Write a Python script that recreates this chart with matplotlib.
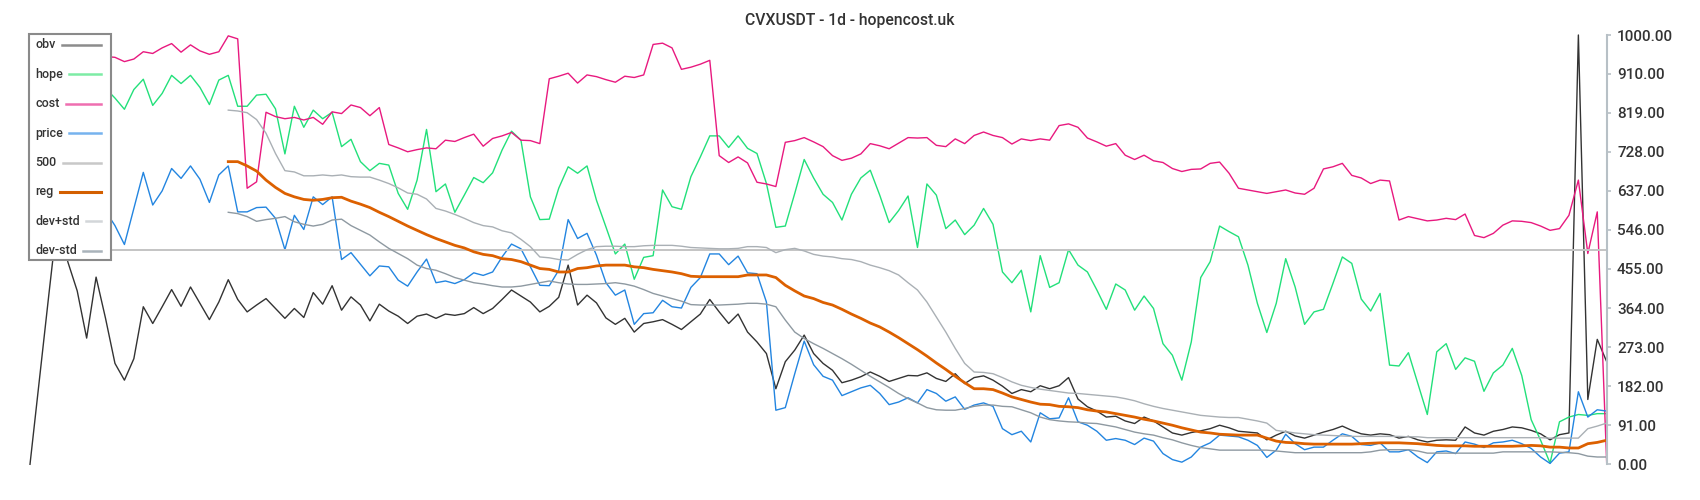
import matplotlib
matplotlib.use("Agg")
import matplotlib.pyplot as plt
from matplotlib.patches import Rectangle
from matplotlib.lines import Line2D

plt.rcParams['font.family'] = ['Roboto', 'DejaVu Sans']

title = "CVXUSDT - 1d - hopencost.uk"

# normalised series, one value per day (168 days)
obv = [0, 198, 396, 590, 472, 404, 294, 436, 340, 235,
       196, 246, 367, 328, 367, 407, 368, 413, 375, 337,
       378, 430, 384, 355, 371, 386, 363, 340, 363, 342,
       400, 373, 416, 359, 390, 371, 334, 373, 357, 345,
       328, 345, 350, 340, 350, 347, 351, 365, 351, 363,
       384, 406, 392, 378, 355, 368, 389, 464, 371, 394,
       376, 341, 326, 340, 308, 328, 332, 337, 326, 314,
       332, 350, 384, 355, 328, 350, 308, 285, 258, 176,
       239, 266, 301, 258, 235, 219, 190, 196, 204, 215,
       205, 193, 200, 207, 206, 213, 200, 193, 211, 188,
       202, 206, 196, 182, 165, 174, 169, 183, 176, 183,
       202, 152, 134, 124, 110, 112, 101, 95, 110, 101,
       87, 73, 68, 74, 78, 83, 91, 85, 77, 75,
       73, 57, 68, 77, 66, 61, 68, 75, 81, 89,
       79, 71, 68, 71, 69, 61, 65, 57, 52, 56,
       57, 56, 87, 73, 68, 77, 81, 87, 85, 79,
       71, 57, 69, 73, 1000, 151, 291, 239]

hope = [880, 850, 870, 895, 860, 845, 875, 890, 876, 853,
        827, 873, 897, 836, 864, 906, 887, 906, 878, 838,
        895, 906, 834, 834, 860, 862, 828, 723, 834, 785,
        825, 805, 820, 740, 757, 705, 684, 701, 697, 631,
        594, 662, 780, 635, 653, 587, 627, 668, 656, 679,
        732, 776, 755, 623, 570, 571, 643, 693, 678, 695,
        615, 553, 490, 513, 431, 482, 486, 639, 600, 594,
        670, 716, 765, 765, 738, 765, 736, 724, 654, 552,
        555, 631, 710, 667, 629, 610, 569, 629, 667, 685,
        627, 563, 591, 625, 505, 653, 627, 549, 569, 535,
        557, 596, 559, 448, 423, 452, 355, 486, 412, 423,
        500, 464, 448, 406, 361, 420, 406, 359, 392, 363,
        281, 254, 196, 285, 435, 472, 555, 542, 530, 464,
        375, 307, 375, 479, 413, 326, 355, 361, 421, 483,
        468, 385, 357, 398, 231, 229, 260, 188, 116, 262,
        281, 221, 248, 240, 170, 213, 231, 270, 207, 104,
        56, 3, 99, 110, 116, 114, 118, 118]

cost = [960, 975, 990, 970, 955, 965, 980, 960, 950, 948,
        938, 944, 961, 957, 970, 980, 960, 977, 963, 955,
        961, 998, 991, 643, 658, 820, 810, 805, 808, 802,
        808, 792, 821, 817, 837, 831, 812, 831, 745, 737,
        728, 733, 737, 735, 755, 752, 761, 769, 741, 759,
        765, 773, 755, 754, 747, 898, 904, 911, 888, 907,
        903, 896, 890, 904, 901, 907, 978, 981, 970, 920,
        925, 932, 941, 719, 703, 716, 702, 657, 653, 647,
        750, 754, 761, 751, 740, 719, 708, 713, 723, 747,
        742, 735, 748, 761, 760, 761, 743, 740, 758, 747,
        766, 774, 766, 761, 746, 758, 754, 758, 755, 789,
        793, 785, 760, 751, 741, 747, 720, 710, 720, 707,
        703, 689, 682, 687, 688, 701, 704, 678, 643, 639,
        635, 631, 635, 639, 632, 629, 643, 688, 693, 701,
        673, 667, 654, 662, 660, 569, 577, 572, 567, 569,
        573, 570, 583, 533, 528, 538, 557, 567, 566, 563,
        555, 545, 549, 580, 662, 491, 588, 2]

price = [610, 640, 600, 575, 620, 650, 630, 600, 590, 556,
         512, 596, 680, 604, 637, 689, 666, 695, 664, 610,
         674, 695, 588, 588, 598, 599, 573, 500, 580, 547,
         623, 605, 623, 477, 493, 466, 439, 462, 460, 429,
         415, 448, 478, 423, 427, 421, 430, 446, 440, 448,
         483, 513, 502, 460, 417, 416, 452, 570, 526, 538,
         487, 423, 394, 406, 326, 351, 353, 382, 367, 364,
         412, 435, 490, 490, 465, 485, 446, 444, 378, 126,
         132, 211, 287, 232, 205, 196, 160, 169, 178, 184,
         165, 139, 145, 155, 143, 174, 165, 147, 157, 128,
         138, 143, 135, 83, 69, 77, 52, 120, 106, 108,
         155, 99, 91, 77, 56, 60, 56, 46, 61, 54,
         25, 11, 5, 17, 40, 50, 68, 66, 64, 56,
         44, 16, 33, 70, 48, 34, 40, 40, 56, 71,
         65, 46, 44, 50, 29, 29, 34, 17, 4, 29,
         31, 25, 52, 47, 39, 50, 52, 56, 48, 37,
         17, 2, 26, 29, 169, 110, 127, 124]

level = 500

# regression and bands start on day 21
reg_start = 21
reg = [705, 705, 695, 683, 662, 645, 631, 623, 617,
       615, 617, 621, 622, 613, 606, 598, 587, 577, 566,
       555, 545, 535, 526, 518, 510, 504, 495, 489, 486,
       479, 477, 472, 464, 456, 454, 448, 448, 456, 458,
       462, 464, 464, 464, 460, 458, 454, 451, 448, 444,
       438, 437, 437, 437, 437, 437, 441, 441, 441, 435,
       417, 404, 392, 386, 377, 371, 361, 350, 340, 329,
       320, 308, 295, 281, 267, 252, 236, 221, 205, 190,
       176, 176, 174, 166, 157, 151, 145, 140, 139, 135,
       134, 132, 127, 124, 122, 118, 114, 110, 105, 101,
       96, 91, 85, 80, 75, 73, 70, 69, 68, 68,
       68, 61, 54, 51, 50, 48, 47, 47, 47, 47,
       47, 48, 49, 50, 50, 50, 49, 48, 46, 44,
       43, 43, 43, 42, 42, 42, 42, 42, 43, 44,
       43, 40, 40, 38, 38, 48, 51, 56]

dev_plus = [825, 823, 819, 803, 771, 724, 684, 681, 672,
            672, 674, 672, 674, 670, 669, 669, 662, 654, 644,
            632, 629, 618, 596, 590, 582, 573, 563, 556, 553,
            544, 539, 524, 507, 483, 481, 477, 476, 489, 500,
            507, 508, 508, 507, 507, 509, 510, 510, 510, 508,
            505, 504, 503, 502, 502, 503, 507, 507, 505, 493,
            500, 503, 497, 489, 485, 483, 479, 477, 472, 464,
            458, 451, 441, 423, 406, 378, 343, 308, 270, 235,
            215, 214, 211, 202, 192, 184, 179, 175, 172, 169,
            166, 165, 163, 161, 159, 157, 153, 148, 141, 135,
            130, 126, 122, 118, 114, 112, 110, 109, 109, 105,
            101, 96, 79, 76, 73, 71, 69, 68, 67, 66,
            65, 65, 65, 65, 65, 65, 64, 64, 62, 62,
            62, 62, 62, 62, 62, 62, 62, 62, 62, 62,
            62, 61, 61, 61, 61, 83, 89, 96]

dev_minus = [587, 584, 577, 566, 570, 573, 577, 565, 559,
             555, 559, 569, 571, 556, 545, 534, 518, 503, 491,
             479, 464, 456, 452, 444, 435, 429, 423, 420, 416,
             413, 413, 415, 419, 423, 427, 423, 420, 419, 419,
             420, 421, 423, 420, 415, 407, 398, 392, 386, 380,
             372, 371, 371, 371, 372, 373, 375, 375, 373, 367,
             336, 308, 293, 281, 270, 258, 246, 233, 219, 205,
             192, 179, 165, 153, 143, 132, 127, 126, 126, 130,
             135, 138, 138, 135, 134, 127, 120, 110, 104, 101,
             99, 98, 96, 95, 91, 87, 81, 75, 71, 68,
             62, 57, 50, 44, 39, 36, 33, 33, 33, 33,
             33, 33, 31, 29, 27, 27, 27, 27, 27, 27,
             27, 27, 29, 33, 34, 34, 34, 31, 26, 26,
             26, 26, 26, 26, 26, 26, 29, 29, 29, 29,
             29, 29, 28, 27, 25, 19, 17, 17]

y_ticks = [0, 91, 182, 273, 364, 455, 546, 637, 728, 819, 910, 1000]

W, H = 1700, 500


def fx(px):
    return px / W


def fy(py):
    return 1 - py / H


fig = plt.figure(figsize=(17, 5), dpi=100)
ax = fig.add_axes([fx(30), fy(464.3), fx(1606.7) - fx(30), fy(35) - fy(464.3)])

days = list(range(len(obv)))
reg_days = list(range(reg_start, reg_start + len(reg)))

ax.plot(days, obv, color='#333333', lw=1.0, clip_on=False)
ax.plot(days, hope, color='#22e07a', lw=1.0, clip_on=False)
ax.plot(days, cost, color='#e8197f', lw=1.0, clip_on=False)
ax.plot(days, price, color='#2385e0', lw=1.0, clip_on=False)
ax.plot(days, [level] * len(days), color='#c4c4c4', lw=1.4)
ax.plot(reg_days, reg, color='#dc6000', lw=2.0)
ax.plot(reg_days, dev_plus, color='#aab0b5', lw=1.0)
ax.plot(reg_days, dev_minus, color='#8e99a1', lw=1.0)

ax.set_xlim(0, len(days) - 1)
ax.set_ylim(0, 1000)

for s in ['left', 'top', 'bottom']:
    ax.spines[s].set_visible(False)
ax.spines['right'].set_color('#b7c0c6')
ax.spines['right'].set_linewidth(1.5)
ax.set_xticks([])
ax.yaxis.tick_right()
ax.set_yticks(y_ticks)
ax.set_yticklabels([f"{t:.2f}" for t in y_ticks], fontweight='medium')
ax.tick_params(axis='y', direction='out', length=3, width=1.2, color='#b7c0c6',
               labelcolor='#333333', labelsize=11, pad=4.5)

fig.text(0.5, fy(20), title, ha='center', va='center', fontsize=11.3,
         fontweight='medium', color='#333333')

# legend drawn by hand: label first, line running to a common right edge
leg_labels = ['obv', 'hope', 'cost', 'price', '500', 'reg', 'dev+std', 'dev-std']
leg_colors = ['#8c8c8c', '#7deca5', '#ef6eb0', '#76b3ee', '#c8c8c8', '#d35f00', '#d3d6d9', '#a9b3ba']
leg_widths = [1.8, 1.8, 1.8, 1.8, 1.8, 2.2, 1.8, 1.8]

fig.patches.append(Rectangle((fx(29.3), fy(260)), fx(110.7) - fx(29.3), fy(34.3) - fy(260),
                             transform=fig.transFigure, facecolor='white', edgecolor='#8a8a8a',
                             lw=1.5, zorder=5))
renderer = fig.canvas.get_renderer()
for k, (lab, col, lw) in enumerate(zip(leg_labels, leg_colors, leg_widths)):
    yc = 45 + 29.4 * k
    t = fig.text(fx(35), fy(yc), lab, ha='left', va='center', fontsize=9,
                 fontweight='medium', color='#333333', zorder=6)
    ext = t.get_window_extent(renderer)
    fig.lines.append(Line2D([fx(ext.x1 + 6.5), fx(100.7)], [fy(yc), fy(yc)],
                            transform=fig.transFigure, color=col, lw=lw, zorder=6))

fig.savefig('out.png', dpi=100)
